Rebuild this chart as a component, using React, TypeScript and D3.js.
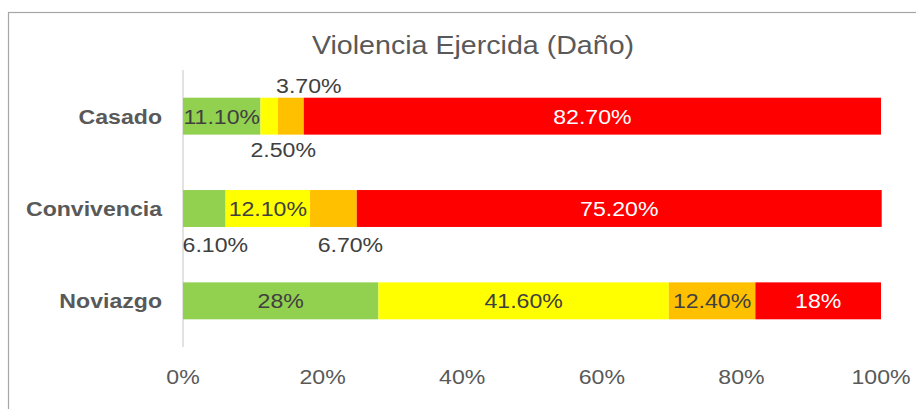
import React, { useEffect, useRef } from 'react';
import * as d3 from 'd3';

// data
const categories = ['Casado', 'Convivencia', 'Noviazgo'];
const seriesNames = ['s1', 's2', 's3', 's4'];
const seriesColors = ['#92D050', '#FFFF00', '#FFC000', '#FF0000'];
const casado = [11.1, 2.5, 3.7, 82.7];
const convivencia = [6.1, 12.1, 6.7, 75.2];
const noviazgo = [28, 41.6, 12.4, 18];
const labelText = [
  ['11.10%', '2.50%', '3.70%', '82.70%'],
  ['6.10%', '12.10%', '6.70%', '75.20%'],
  ['28%', '41.60%', '12.40%', '18%'],
];
const xTicks = [0, 20, 40, 60, 80, 100];

// label nudges (manual placements like in the original)
const labelNudge: [number, number][][] = [
  [[0, 0], [14, 33], [18, -31], [0, 0]],
  [[11, 36], [0, 0], [17, 36], [0, 0]],
  [[0, 0], [0, 0], [0, 0], [0, 0]],
];

const font = 'Liberation Sans, Arial, sans-serif';
const stretch = 1.1;

const App = () => {
  const svgRef = useRef<SVGSVGElement>(null);

  useEffect(() => {
    document.body.style.margin = '0';
    if (!svgRef.current) return;
    const svg = d3.select(svgRef.current);
    svg.selectAll('*').remove();

    const W = 916, H = 409;
    const rows = [casado, convivencia, noviazgo];

    // text helper, the original glyphs are a bit wide
    const label = (px: number, py: number, txt: string, size: number, color: string, anchor = 'middle', bold = false) =>
      svg.append('text')
        .attr('transform', `translate(${px},${py}) scale(${stretch},1)`)
        .attr('dy', '0.35em')
        .attr('text-anchor', anchor)
        .attr('font-family', font)
        .attr('font-weight', bold ? 'bold' : 'normal')
        .attr('font-size', size)
        .attr('fill', color)
        .text(txt);

    // chart frame
    svg.append('rect')
      .attr('x', 8.5).attr('y', 12.5)
      .attr('width', W + 20).attr('height', H + 20)
      .attr('fill', '#fff').attr('stroke', '#a6a6a6').attr('stroke-width', 1.2);

    label(473, 45, 'Violencia Ejercida (Daño)', 26, '#595959');

    const x = d3.scaleLinear().domain([0, 100]).range([183, 881]);
    const y = d3.scaleBand().domain(categories).range([70, 347]).paddingInner(0.6).paddingOuter(0.3);

    // axis line at 0
    svg.append('line')
      .attr('x1', x(0)).attr('x2', x(0))
      .attr('y1', 70).attr('y2', 347)
      .attr('stroke', '#d9d9d9').attr('stroke-width', 1.5);

    rows.forEach((vals, ri) => {
      const cat = categories[ri];
      let acc = 0;
      vals.forEach((v, si) => {
        const x0 = x(acc);
        const x1 = x(acc + v);
        acc += v;
        svg.append('rect')
          .attr('class', seriesNames[si])
          .attr('x', x0).attr('y', y(cat)!)
          .attr('width', x1 - x0).attr('height', y.bandwidth())
          .attr('fill', seriesColors[si]);
        const [dx, dy] = labelNudge[ri][si];
        label((x0 + x1) / 2 + dx, y(cat)! + y.bandwidth() / 2 + dy, labelText[ri][si], 21,
          si === 3 ? '#ffffff' : '#404040');
      });

      label(162, y(cat)! + y.bandwidth() / 2, cat, 21, '#595959', 'end', true);
    });

    xTicks.forEach(t => {
      label(x(t), 377, t + '%', 21, '#595959');
    });
  }, []);

  return <svg ref={svgRef} width={916} height={409} style={{ display: 'block' }} />;
};

export default App;
